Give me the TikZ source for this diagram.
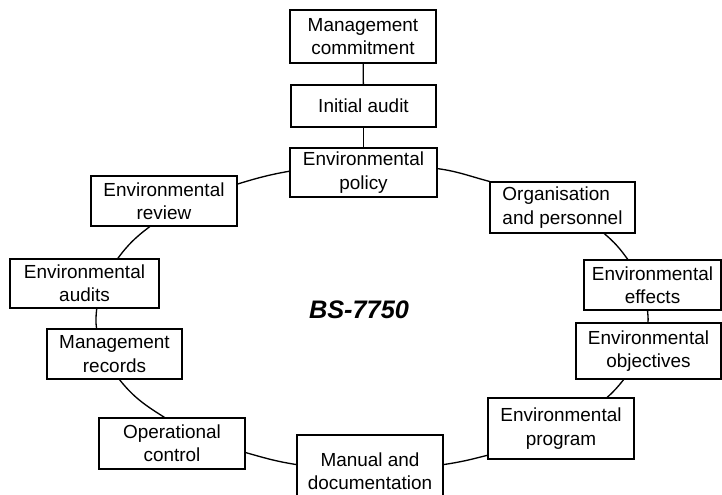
\documentclass[tikz,border=0pt]{standalone}
\usepackage{fontspec}
\setmainfont{Liberation Sans}
\begin{document}
\begin{tikzpicture}[x=0.75pt,y=0.75pt,
  box/.style={draw=black,line width=0.9pt,fill=white,align=center,inner sep=1pt,
    font=\fontsize{14.2}{17.5}\selectfont},
  boxsize/.style 2 args={minimum width=#1*0.75pt,minimum height=#2*0.75pt},
  link/.style={line width=1pt}]
\useasboundingbox (0,0) rectangle (722,-494);
\clip (0,0) rectangle (722,-494);
\fill[white] (0,0) rectangle (722,-494);

% boxes (centre, width, height)
\node[box,boxsize={146}{53}] (mc) at (363,-36.5) {Management\\commitment};
\node[box,boxsize={145}{42}] (ia) at (363.5,-106) {Initial audit};
\node[box,boxsize={147}{49}] (ep) at (363.5,-172.5) {Environmental\\policy};
\node[box,boxsize={146}{50}] (er) at (164,-201) {Environmental\\review};
\node[box,boxsize={149}{49}] (ea) at (84.5,-283.5) {Environmental\\audits};
\node[box,boxsize={135}{50}] (mr) at (114.5,-354) {Management\\records};
\node[box,boxsize={146}{51}] (oc) at (172,-443.5) {Operational\\control};
\node[box,boxsize={146}{72}] (md) at (370,-471) {Manual and\\documentation};
\node[box,boxsize={145}{51},align=left] (op) at (562.5,-207.5) {Organisation\\and personnel};
\node[box,boxsize={137}{50}] (ef) at (652.5,-285) {Environmental\\effects};
\node[box,boxsize={145}{56}] (ob) at (648.5,-351) {Environmental\\objectives};
\node[box,boxsize={146}{61}] (pg) at (561,-428.5) {Environmental\\program};

\node[font=\fontsize{19}{22}\selectfont\bfseries\itshape] (title) at (359,-309.5) {BS-7750};

% straight links at the top
\draw[link] (mc) -- (ia);
\draw[link] (ia) -- (ep);

% the ring of the management cycle
\draw[link] (ep.179) to[out=190,in=17] (er.13);
\draw[link] (er.241) to[out=217,in=53.5] (ea.37);
\draw[link] (ea.296) to[out=264,in=98] (mr.125);
\draw[link] (mr.281) to[out=308.6,in=147.8] (oc.106);
\draw[link] (oc.353) to[out=344,in=171] (md.175);
\draw[link] (md.5) to[out=8.4,in=194.4] (pg.200);
\draw[link] (pg.34) to[out=41.6,in=231.4] (ob.229);
\draw[link] (ob.91) to[out=86,in=274.7] (ef.259);
\draw[link] (ef.134) to[out=126,in=319.8] (op.328);
\draw[link] (op.north west) to[out=165.3,in=352.3] (ep.3);
\end{tikzpicture}
\end{document}
